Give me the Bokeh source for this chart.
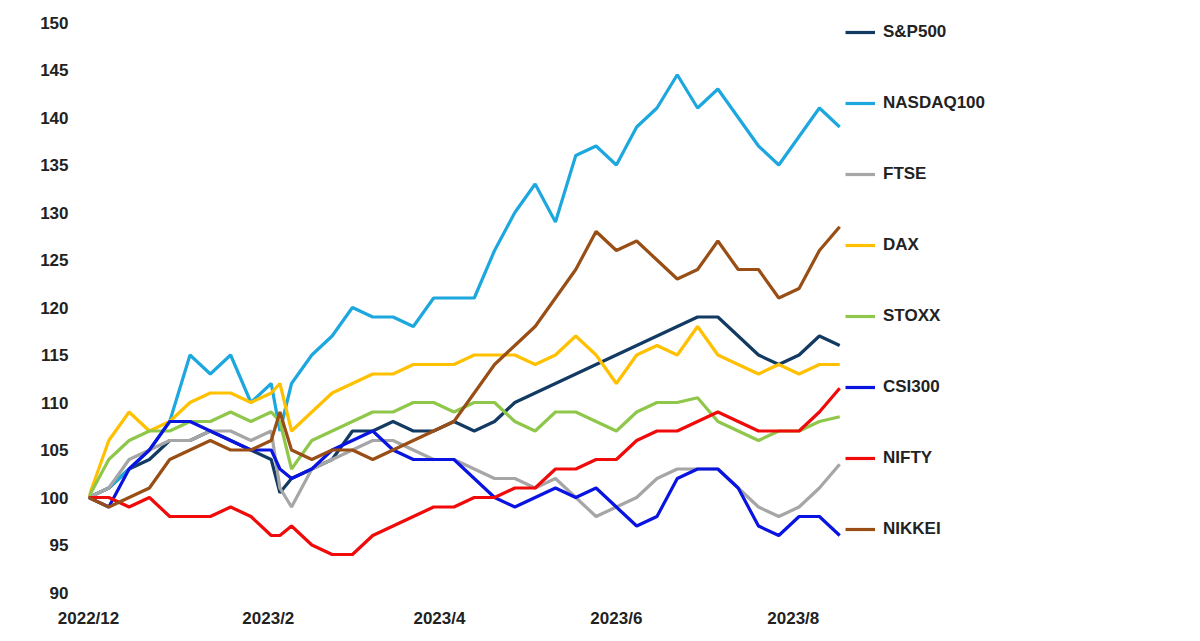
from bokeh.plotting import figure
from bokeh.models import Legend, LegendItem, FixedTicker, Range1d
from bokeh.embed import file_html
from bokeh.resources import INLINE

days = [0,7,14,21,28,35,42,49,56,63,66,70,77,84,91,98,105,112,119,126,133,140,147,154,161,168,175,182,189,196,203,210,217,224,231,238,245,252,259]

sp500 = [100,101,103,104,106,106,107,106,105,104,100.5,102,103,104,107,107,108,107,107,108,107,108,110,111,112,113,114,115,116,117,118,119,119,117,115,114,115,117,116]
nasdaq = [100,101,103,105,108,115,113,115,110,112,107,112,115,117,120,119,119,118,121,121,121,126,130,133,129,136,137,135,139,141,144.5,141,143,140,137,135,138,141,139]
ftse = [100,101,104,105,106,106,107,107,106,107,101,99,103,104,105,106,106,105,104,104,103,102,102,101,102,100,98,99,100,102,103,103,103,101,99,98,99,101,103.5]
dax = [100,106,109,107,108,110,111,111,110,111,112,107,109,111,112,113,113,114,114,114,115,115,115,114,115,117,115,112,115,116,115,118,115,114,113,114,113,114,114]
stoxx = [100,104,106,107,107,108,108,109,108,109,108,103,106,107,108,109,109,110,110,109,110,110,108,107,109,109,108,107,109,110,110,110.5,108,107,106,107,107,108,108.5]
csi300 = [100,99,103,105,108,108,107,106,105,105,103,102,103,105,106,107,105,104,104,104,102,100,99,100,101,100,101,99,97,98,102,103,103,101,97,96,98,98,96]
nifty = [100,100,99,100,98,98,98,99,98,96,96,97,95,94,94,96,97,98,99,99,100,100,101,101,103,103,104,104,106,107,107,108,109,108,107,107,107,109,111.5]
nikkei = [100,99,100,101,104,105,106,105,105,106,109,105,104,105,105,104,105,106,107,108,111,114,116,118,121,124,128,126,127,125,123,124,127,124,124,121,122,126,128.5]

names = ["S&P500","NASDAQ100","FTSE","DAX","STOXX","CSI300","NIFTY","NIKKEI"]
series = [sp500, nasdaq, ftse, dax, stoxx, csi300, nifty, nikkei]
colors = ["#123A63","#1CA7DE","#A6A6A6","#FFC000","#8FC74A","#0A14E0","#F00A0A","#984E14"]

tick_pos = [0,62,121,182,243]
tick_labels = ["2022/12","2023/2","2023/4","2023/6","2023/8"]

p = figure(frame_width=757, frame_height=570, output_backend="svg", toolbar_location=None,
           x_range=Range1d(0,261), y_range=Range1d(90,150),
           min_border_left=88, min_border_top=22, min_border_bottom=33, min_border_right=0)
p.outline_line_color = None
p.xgrid.visible = False
p.ygrid.visible = False
p.background_fill_color = "white"

items = []
for n, s, c in zip(names, series, colors):
    r = p.line(days, s, line_color=c, line_width=3.2)
    items.append(LegendItem(label=n, renderers=[r]))

p.xaxis.ticker = FixedTicker(ticks=tick_pos)
p.xaxis.major_label_overrides = {t: l for t, l in zip(tick_pos, tick_labels)}
p.yaxis.ticker = FixedTicker(ticks=list(range(90,151,5)))
for ax in (p.xaxis, p.yaxis):
    ax.axis_line_color = None
    ax.major_tick_line_color = None
    ax.minor_tick_line_color = None
    ax.major_label_text_font = "Liberation Sans"
    ax.major_label_text_font_style = "bold"
    ax.major_label_text_font_size = "17px"
    ax.major_label_text_color = "#222222"
p.yaxis.major_label_standoff = 14
p.xaxis.major_label_standoff = 10

legend = Legend(items=items, location="top_left", border_line_color=None,
                background_fill_alpha=0, label_text_font="Liberation Sans",
                label_text_font_style="bold", label_text_font_size="17px",
                label_text_color="#222222", glyph_width=30, spacing=51,
                padding=22, margin=0, label_standoff=8)
p.add_layout(legend, "right")

open("out.html","w").write(file_html(p, INLINE))
